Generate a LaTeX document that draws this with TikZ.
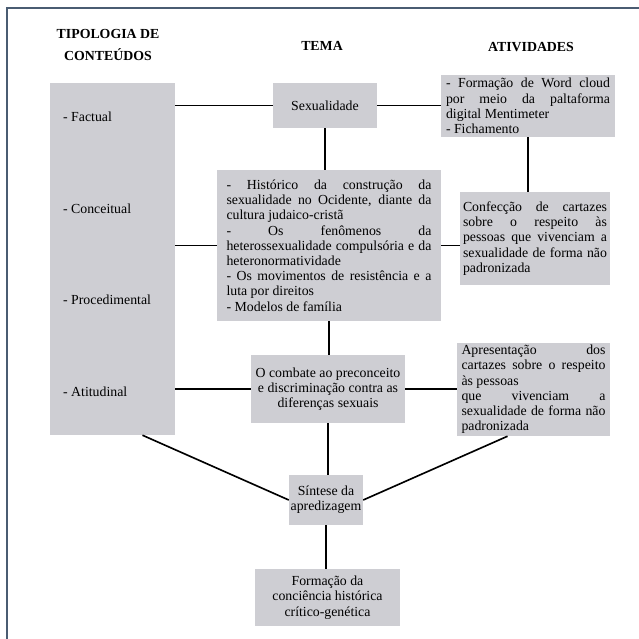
\documentclass[tikz,border=0pt]{standalone}
\usepackage{fontspec}
\setmainfont{Liberation Serif}
\usetikzlibrary{calc}
\definecolor{boxgray}{RGB}{206,206,211}
\definecolor{framecol}{RGB}{74,92,114}
\begin{document}
\begin{tikzpicture}[x=0.3mm,y=-0.3mm,font=\fontsize{11.8}{13}\selectfont,
  box/.style={fill=boxgray,inner sep=0pt,align=center},
  jbox/.style={box,align=justify},
  con/.style={line width=1.4pt,black},
  head/.style={font=\fontsize{11.8}{19}\selectfont\bfseries,align=center}]
\useasboundingbox (0,0) rectangle (639,638);
\draw[framecol,line width=2pt] (7,639) -- (7,8) -- (640,8);
% headers
\node[head] (hTipo) at (108,45) {TIPOLOGIA DE\\CONTEÚDOS};
\node[head] (hTema) at (322,46) {TEMA};
\node[head] (hAtiv) at (531,47) {ATIVIDADES};
% tipologia
\node[box,minimum width=37.5mm,minimum height=105.6mm] (tipo) at (112.5,259) {};
\node[anchor=west] (lFact) at (59,117) {- Factual};
\node[anchor=west] (lConc) at (59,209) {- Conceitual};
\node[anchor=west] (lProc) at (59,300) {- Procedimental};
\node[anchor=west] (lAtit) at (59,392) {- Atitudinal};
% tema
\node[box,minimum width=31.2mm,minimum height=13.5mm] (sexo) at (325,105.5) {Sexualidade};
\node[jbox,minimum width=67.2mm,minimum height=45.3mm,text width=61.5mm] (tema) at (329,245.5)
  {- Histórico da construção da\linebreak
   sexualidade no Ocidente, diante da\linebreak
   cultura judaico-cristã\\
   - Os fenômenos da\linebreak
   heterossexualidade compulsória e da\linebreak
   heteronormatividade\\
   - Os movimentos de resistência e a\linebreak
   luta por direitos\\
   - Modelos de família};
\node[box,minimum width=46.2mm,minimum height=20.4mm] (combate) at (328,389)
  {O combate ao preconceito\\e discriminação contra as\\diferenças sexuais};
\node[box,minimum width=22.2mm,minimum height=15mm] (sintese) at (326,500)
  {Síntese da\\apredizagem};
\node[box,minimum width=43.5mm,minimum height=17.1mm] (formacao) at (327.5,597.5)
  {Formação da\\conciência histórica\\crítico-genética};
% atividades
\node[jbox,minimum width=52.2mm,minimum height=18.6mm,text width=49.2mm] (ativA) at (528,106)
  {- Formação de Word cloud\linebreak
   por meio da paltaforma\linebreak
   digital Mentimeter\\
   - Fichamento};
\node[jbox,minimum width=45mm,minimum height=27.9mm,text width=43.2mm] (confec) at (535,238.5)
  {Confecção de cartazes\linebreak
   sobre o respeito às\linebreak
   pessoas que vivenciam a\linebreak
   sexualidade de forma não\linebreak
   padronizada};
\node[jbox,minimum width=45.9mm,minimum height=27.9mm,text width=43.2mm] (apres) at (533.5,389.5)
  {Apresentação dos\linebreak
   cartazes sobre o respeito\linebreak
   às pessoas\\
   que vivenciam a\linebreak
   sexualidade de forma não\linebreak
   padronizada};
% ligacoes
\draw[con] (tipo.east |- sexo.west) -- (sexo.west);
\draw[con] (sexo.east) -- (sexo.east -| ativA.west);
\draw[con] (sexo.south) -- (sexo.south |- tema.north);
\draw[con] (ativA.south) -- (ativA.south |- confec.north);
\draw[con] (tipo.east |- tema.west) -- (tema.west);
\draw[con] (tema.east) -- (tema.east -| confec.west);
\draw[con] (tema.south) -- (tema.south |- combate.north);
\draw[con] (tipo.east |- combate.west) -- (combate.west);
\draw[con] (combate.east) -- (combate.east -| apres.west);
\draw[con] (combate.south) -- (combate.south |- sintese.north);
\draw[con] ($(tipo.south)+(30,0)$) -- (sintese.west);
\draw[con] ($(apres.south)+(-26,0)$) -- (sintese.east);
\draw[con] (sintese.south) -- (sintese.south |- formacao.north);
\end{tikzpicture}
\end{document}
